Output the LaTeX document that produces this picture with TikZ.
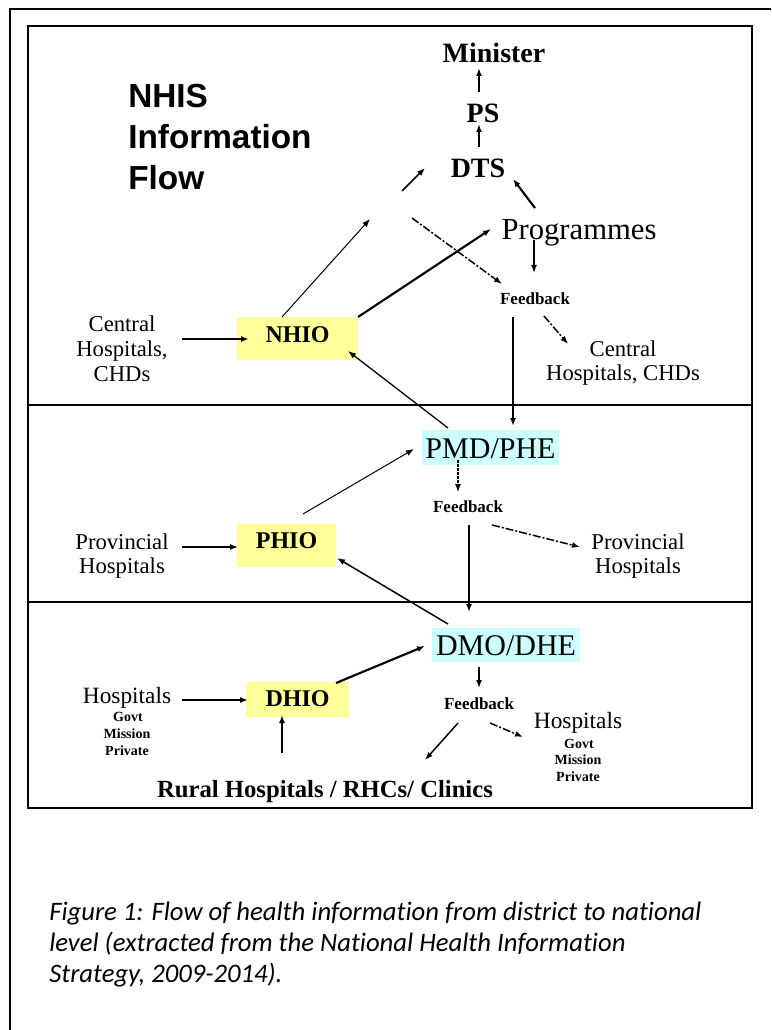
\documentclass[tikz,border=0pt]{standalone}
\usepackage{fontspec}
\setmainfont{Liberation Serif}
\newfontfamily\headfont{Liberation Sans}
\newfontfamily\capfont[Ligatures=NoCommon]{Carlito}
\usetikzlibrary{calc,arrows.meta}

\newcommand\fsz[1]{\fontsize{#1}{#1}\selectfont}
\definecolor{officeyellow}{HTML}{FFFF99}
\definecolor{officecyan}{HTML}{CCFFFF}

\begin{document}
\begin{tikzpicture}[x=0.75pt,y=-0.75pt,
  txt/.style={inner sep=0pt,outer sep=0pt,anchor=base},
  topname/.style={txt,font=\fsz{21pt}\bfseries},
  unitname/.style={txt,font=\fsz{23pt}},
  place/.style={txt,font=\fsz{17pt}},
  placebig/.style={txt,font=\fsz{17.5pt}},
  sublist/.style={txt,font=\fsz{10.5pt}\bfseries},
  fbk/.style={txt,font=\fsz{12.75pt}\bfseries},
  office/.style={inner sep=0pt,outer sep=0pt,fill=officeyellow,font=\fsz{18pt}\bfseries,text depth=1.5pt},
  mgmt/.style={inner sep=0pt,outer sep=0pt,fill=officecyan,font=\fsz{22.5pt},text depth=1.5pt},
  title/.style={inner sep=0pt,anchor=base west,font=\headfont\bfseries\fsz{25pt}},
  captxt/.style={inner sep=0pt,anchor=base west,font=\capfont\itshape\fsz{20pt}},
  frame/.style={line width=1.5pt},
  tip/.style={-{Latex[length=6pt,width=4.5pt]}},
  thick arr/.style={tip,line width=1.6pt},
  mid arr/.style={tip,line width=1.1pt},
  thin arr/.style={tip,line width=0.75pt},
  dashdot arr/.style={tip,line width=1.1pt,dash pattern=on 6pt off 1.5pt on 1.5pt off 1.5pt},
  dot arr/.style={tip,line width=0.8pt,dash pattern=on 2pt off 1pt}
]
% page
\fill[white] (0,0) rectangle (771,1030);
\useasboundingbox (0,0) rectangle (771,1030);

% outer frame (open to the right and bottom) and the three-level panel
\draw[frame] (771,9) -- (10,9) -- (10,1030);
\draw[frame] (28,26) rectangle (752,808);
\draw[frame] (28,405) -- (752,405);
\draw[frame] (28,602) -- (752,602);

% heading
\node[title] (t1) at (128,108) {NHIS};
\node[title] (t2) at (128,149) {Information};
\node[title] (t3) at (128,190) {Flow};

% national level
\node[topname] (minister) at (494,63) {Minister};
\node[topname] (ps) at (483,123) {PS};
\node[topname] (dts) at (478,178) {DTS};
\node[unitname] (prog) at (579,240) {Programmes};
\node[fbk] (fb1) at (535,305) {Feedback};
\node[place] (cenA1) at (122,331) {Central};
\node[place] (cenA2) at (122,356) {Hospitals,};
\node[place] (cenA3) at (122,381) {CHDs};
\node[place] (cenB1) at (623,356) {Central};
\node[place] (cenB2) at (623,380) {Hospitals, CHDs};
\node[office,minimum width=90.75pt,minimum height=32.25pt,text height=6.75pt] (nhio) at (297.5,338.5) {NHIO};
\coordinate (j1) at (402,191);
\coordinate (j2) at (370,219);
\coordinate (j3) at (412,218);

% provincial level
\node[mgmt,minimum width=102.75pt,minimum height=26.25pt,text height=17.25pt] (pmd) at (490.5,447.5) {PMD/PHE};
\node[fbk] (fb2) at (468,512) {Feedback};
\node[place] (provA1) at (122,549) {Provincial};
\node[place] (provA2) at (122,573) {Hospitals};
\node[place] (provB1) at (638,549) {Provincial};
\node[place] (provB2) at (638,573) {Hospitals};
\node[office,minimum width=74.25pt,minimum height=32.25pt,text height=5.25pt] (phio) at (286.5,545.5) {PHIO};

% district level
\node[mgmt,minimum width=111pt,minimum height=25.5pt,text height=16.5pt] (dmo) at (506,645) {DMO/DHE};
\node[fbk] (fb3) at (479,709) {Feedback};
\node[office,minimum width=77.25pt,minimum height=26.25pt,text height=11.25pt] (dhio) at (297.5,699.5) {DHIO};
\node[placebig] (hospA) at (127,703) {Hospitals};
\node[sublist] (hospA1) at (128,721) {Govt};
\node[sublist] (hospA2) at (127,738) {Mission};
\node[sublist] (hospA3) at (127,755) {Private};
\node[placebig] (hospB) at (578,728) {Hospitals};
\node[sublist] (hospB1) at (579,748) {Govt};
\node[sublist] (hospB2) at (578,764) {Mission};
\node[sublist] (hospB3) at (578,781) {Private};
\node[txt,font=\fsz{18.5pt}\bfseries] (rural) at (325,797) {Rural Hospitals / RHCs/ Clinics};

% caption
\node[captxt] (cap1) at (49,920) {Figure 1: Flow of health information from district to national};
\node[captxt] (cap2) at (49,951) {level (extracted from the National Health Information};
\node[captxt] (cap3) at (49,982) {Strategy, 2009-2014).};

% reporting chain at national level
\draw[thick arr] ($(ps.base)+(-4,-31)$) -- ($(minister.base)+(-15,5)$);
\draw[thick arr] ($(dts.base)+(1,-31)$) -- ($(ps.base)+(-4,1)$);
\draw[mid arr] (j1) -- ($(dts.base)+(-53,-10)$);
\draw[thick arr] ($(prog.base)+(-44,-32)$) -- ($(dts.base)+(35,1)$);
\draw[thin arr] ($(nhio.center)+(-15.5,-21.5)$) -- (j2);
\draw[thick arr] ($(nhio.center)+(60.5,-21.5)$) -- ($(prog.base)+(-88,-11)$);
\draw[dashdot arr] (j3) -- ($(fb1.base)+(-33,-21)$);
\draw[mid arr] ($(prog.base)+(-45,0)$) -- ($(fb1.base)+(-1,-32)$);
\draw[tip,line width=1.3pt] ($(fb1.base)+(-22,12)$) -- ($(pmd.center)+(22.5,-21.5)$);
\draw[dashdot arr] ($(fb1.base)+(9,11)$) -- ($(cenB1.base)+(-55,-12)$);
\draw[thick arr] ($(cenA2.base)+(60,-17)$) -- ($(nhio.center)+(-48.5,0.5)$);

% provincial level
\draw[tip,line width=0.95pt] ($(pmd.center)+(-42.5,-19.5)$) -- ($(nhio.center)+(50.5,12.5)$);
\draw[thin arr] ($(phio.center)+(16.5,-31.5)$) -- ($(pmd.center)+(-76.5,1.5)$);
\draw[dot arr] ($(pmd.center)+(-32.5,12.5)$) -- ($(fb2.base)+(-10,-20)$);
\draw[tip,line width=1.3pt] ($(fb2.base)+(1,13)$) -- ($(dmo.center)+(-37,-33)$);
\draw[dashdot arr] ($(fb2.base)+(24,13)$) -- ($(provB1.base)+(-58,-2)$);
\draw[mid arr] ($(provA1.base)+(60,-2)$) -- ($(phio.center)+(-48.5,1.5)$);

% district level
\draw[mid arr] ($(dmo.center)+(-58,-21)$) -- ($(phio.center)+(50.5,12.5)$);
\draw[thick arr] ($(hospA.base)+(55,-3)$) -- ($(dhio.center)+(-49.5,0.5)$);
\draw[thick arr] ($(rural.base)+(-43,-44)$) -- ($(dhio.center)+(-15.5,15.5)$);
\draw[thick arr] ($(dhio.center)+(38.5,-16.5)$) -- ($(dmo.center)+(-81,1)$);
\draw[mid arr] ($(dmo.center)+(-27,22)$) -- ($(fb3.base)+(0,-21)$);
\draw[mid arr] ($(fb3.base)+(-21,14)$) -- ($(rural.base)+(100,-37)$);
\draw[dashdot arr] ($(fb3.base)+(11,14)$) -- ($(hospB.base)+(-55,9)$);
\end{tikzpicture}
\end{document}
